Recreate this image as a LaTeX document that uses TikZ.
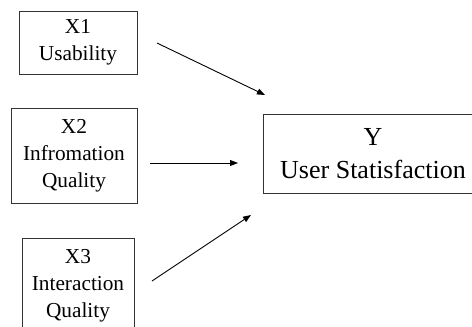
\documentclass[tikz,border=0pt]{standalone}
\usepackage{fontspec}
\setmainfont{Liberation Serif}
\usetikzlibrary{arrows.meta}
\begin{document}
\begin{tikzpicture}[x=1pt,y=-1pt,
  varbox/.style={draw=black!80, line width=0.9pt, inner sep=0pt, align=center,
    font=\fontsize{21.3}{27}\selectfont},
  targetbox/.style={draw=black!80, line width=0.9pt, inner sep=0pt, align=center,
    font=\fontsize{26}{33}\selectfont},
  link/.style={draw=black, line width=0.9pt, -{Triangle[length=8pt,width=6pt]}}]
  \useasboundingbox (0,0) rectangle (472,327);
  \clip (0,0) rectangle (472,327);
  % independent variables
  \node[varbox, minimum width=118pt, minimum height=63pt] (x1) at (78,42.5) {X1\\Usability};
  \node[varbox, minimum width=126pt, minimum height=95pt] (x2) at (74,155.5) {X2\\Infromation\\Quality};
  \node[varbox, minimum width=112pt, minimum height=95pt] (x3) at (78,285.5) {X3\\Interaction\\Quality};
  % dependent variable
  \node[targetbox, minimum width=220pt, minimum height=79pt] (y) at (373,153.5) {Y\\User Statisfaction};
  % arrow end points
  \coordinate (a1s) at (157,43);  \coordinate (a1e) at (265,95);
  \coordinate (a2s) at (150,163); \coordinate (a2e) at (238,163);
  \coordinate (a3s) at (152,281); \coordinate (a3e) at (251,215);
  \draw[link] (a1s) -- (a1e);
  \draw[link] (a2s) -- (a2e);
  \draw[link] (a3s) -- (a3e);
\end{tikzpicture}
\end{document}
